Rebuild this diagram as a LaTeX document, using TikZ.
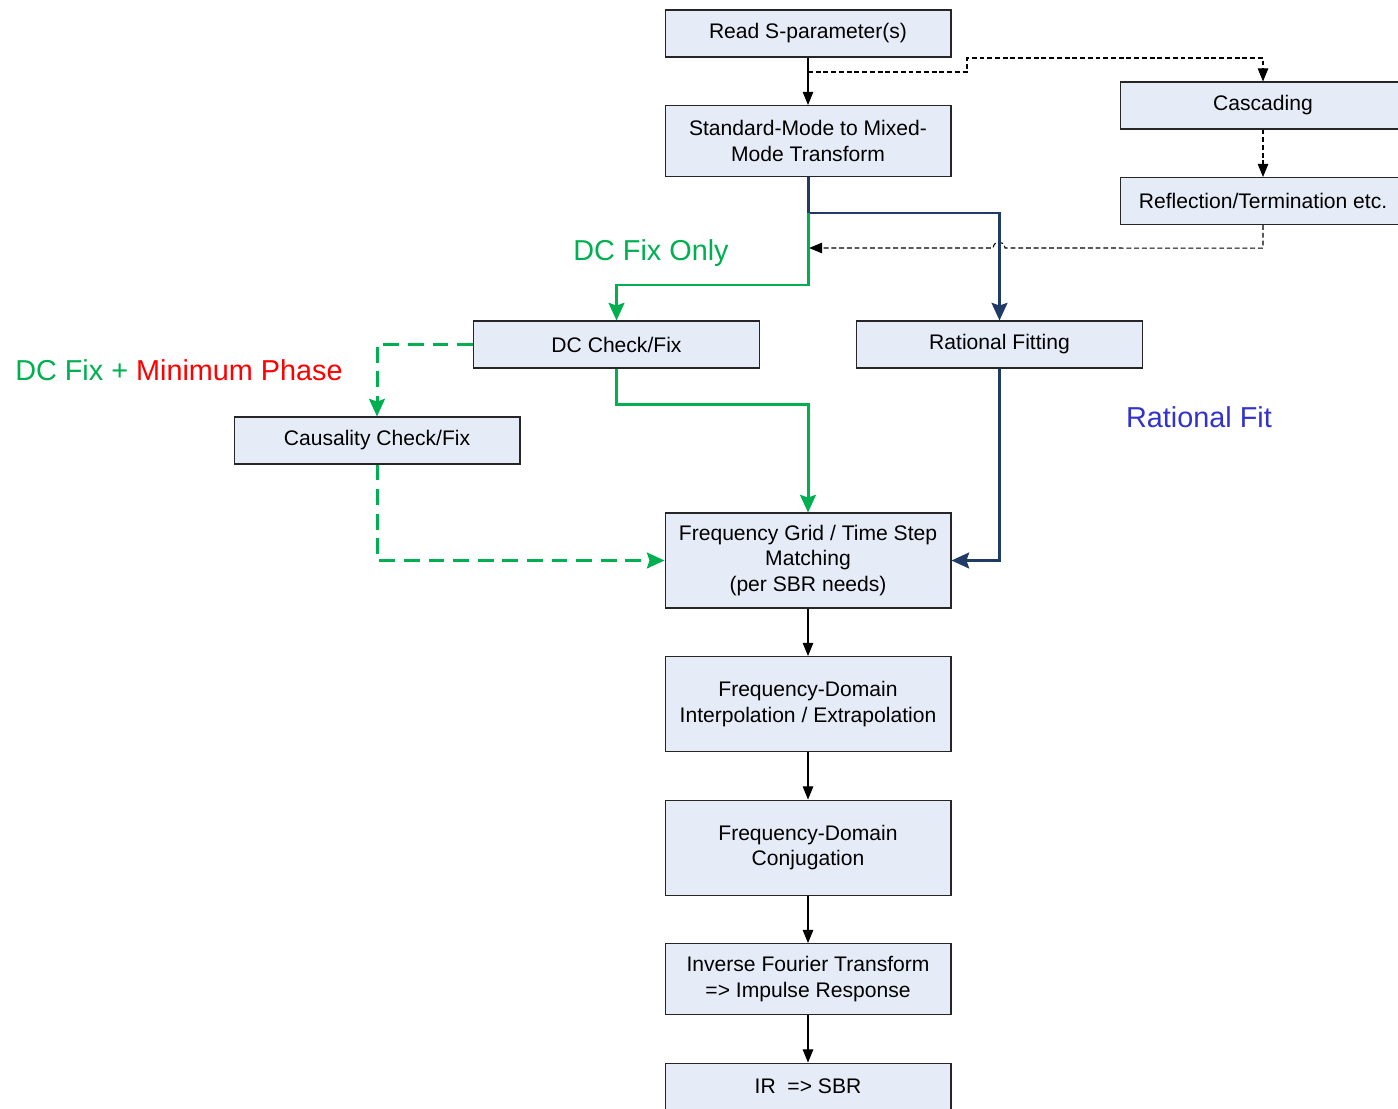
\documentclass[tikz,border=0pt]{standalone}
\usepackage{fontspec}
\setmainfont{Liberation Sans}
\usepackage{xcolor}
\usepackage{tikz}
\usetikzlibrary{shapes,arrows.meta,positioning}
\definecolor{fixgreen}{HTML}{00B050}
\definecolor{fitnavy}{HTML}{1F3B66}
\definecolor{fitblue}{HTML}{3333CC}
\definecolor{boxfill}{HTML}{E6ECF7}
\tikzset{
    box/.style={draw=black!85, line width=0.6pt, fill=boxfill, align=center, minimum width=5.72cm, inner sep=2pt, font=\fontsize{12}{14.4}\selectfont},
    onebox/.style={box, minimum height=0.94cm},
    twobox/.style={box, minimum height=1.42cm},
    threebox/.style={box, minimum height=1.9cm},
    flow/.style={line width=0.6pt, -{Triangle[length=7.5pt,width=6pt]}},
    side/.style={flow, dash pattern=on 2.8pt off 1.6pt},
    greenline/.style={draw=fixgreen, line width=1.7pt, -{Stealth[length=10pt,width=9pt,inset=1.5pt]}},
    greendash/.style={greenline, dash pattern=on 9pt off 5pt},
    navyline/.style={draw=fitnavy, line width=1.7pt, -{Stealth[length=10pt,width=9pt,inset=1.5pt]}},
    biglabel/.style={font=\fontsize{16.4}{19}\selectfont}
}
\begin{document}
\begin{tikzpicture}[x=0.02cm, y=-0.02cm, node distance=0.95cm]
    \clip (0,0) rectangle (1398,1108);
    \node (Read) [onebox] at (808,33.5) {Read S-parameter(s)};
    \node (Standard) [twobox, below=of Read] {Standard-Mode to Mixed-\\Mode Transform};
    \node (Cascading) [onebox] at (1263,105.5) {Cascading};
    \node (Reflection) [onebox, below=of Cascading] {Reflection/Termination etc.};
    \node (DCfix) [onebox] at (616.5,344.5) {DC Check/Fix};
    \node (Rational) [onebox] at (999.5,344.5) {Rational Fitting};
    \node (Causality) [onebox] at (377,440.5) {Causality Check/Fix};
    \node (FreqGrid) [threebox] at (808,560.5) {Frequency Grid / Time Step\\Matching\\(per SBR needs)};
    \node (Interp) [threebox, below=of FreqGrid] {Frequency-Domain\\Interpolation / Extrapolation};
    \node (Conj) [threebox, below=of Interp] {Frequency-Domain\\Conjugation};
    \node (IFT) [twobox, below=of Conj] {Inverse Fourier Transform\\=> Impulse Response};
    \node (SBR) [onebox, below=of IFT] {IR~ => SBR};
    \node (FixOnly) [biglabel, text=fixgreen] at (651,253) {DC Fix Only};
    \node (FixPhase) [biglabel] at (179,370) {\textcolor{fixgreen}{DC Fix +} \textcolor{red}{Minimum Phase}};
    \node (FitLabel) [biglabel, text=fitblue] at (1199,417) {Rational Fit};
    \coordinate (Tap) at (808,72);
    \coordinate (Split) at (808,213);
    \coordinate (Back) at (809,248);
    \draw[flow] (Read) -- (Standard);
    \draw[side] (Tap) -- ++(159,0) -- ++(0,-14) -| (Cascading.north);
    \draw[side] (Cascading) -- (Reflection);
    \draw[side] (Reflection.south) -- ++(0,23) -- (1005,248) .. controls (1004,240) and (994,240) .. (993,248) -- (Back);
    \draw[navyline] (Standard.south) -- (Split) -| (Rational.north);
    \draw[greenline] (Split) -- ++(0,72) -| (DCfix.north);
    \draw[greenline] (DCfix.south) -- ++(0,36) -| (FreqGrid.north);
    \draw[greendash] (DCfix.west) -| (Causality.north);
    \draw[greendash] (Causality.south) |- (FreqGrid.west);
    \draw[navyline] (Rational.south) |- (FreqGrid.east);
    \draw[flow] (FreqGrid) -- (Interp);
    \draw[flow] (Interp) -- (Conj);
    \draw[flow] (Conj) -- (IFT);
    \draw[flow] (IFT) -- (SBR);
\end{tikzpicture}
\end{document}
